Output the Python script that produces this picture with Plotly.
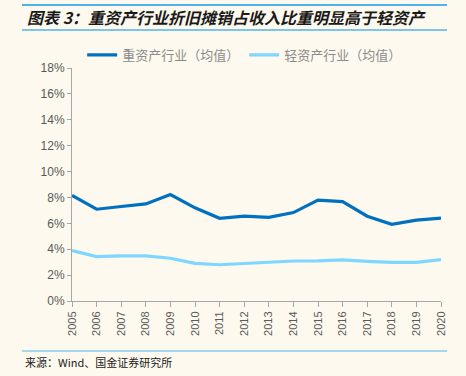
import plotly.graph_objects as go

years = [str(y) for y in range(2005, 2021)]
heavy = [8.15, 7.09, 7.30, 7.50, 8.23, 7.20, 6.39, 6.55, 6.46, 6.83, 7.79, 7.68, 6.55, 5.92, 6.25, 6.41]
light = [3.89, 3.43, 3.48, 3.48, 3.30, 2.91, 2.80, 2.91, 3.01, 3.09, 3.10, 3.17, 3.06, 2.98, 2.98, 3.19]
heavy_name = "重资产行业（均值）"
light_name = "轻资产行业（均值）"
title = "图表 3：重资产行业折旧摊销占收入比重明显高于轻资产"
source = "来源：Wind、国金证券研究所"

bg = "#FDF9EE"
font_cjk = "Noto Sans CJK SC"

fig = go.Figure()
fig.add_trace(go.Scatter(x=years, y=heavy, mode="lines", name=heavy_name,
                         line=dict(color="#0070C0", width=3.2)))
fig.add_trace(go.Scatter(x=years, y=light, mode="lines", name=light_name,
                         line=dict(color="#7FD6FF", width=3.2)))

fig.update_layout(
    width=466, height=376,
    paper_bgcolor=bg, plot_bgcolor=bg,
    margin=dict(l=72, r=25, t=68, b=75, autoexpand=False),
    font=dict(family=font_cjk, color="#595959", size=12),
    showlegend=True,
    legend=dict(orientation="h", x=0.525, xanchor="center", xref="container",
                y=1 - 55/376, yanchor="middle", yref="container",
                font=dict(size=13, color="#8C8C8C"), bgcolor="rgba(0,0,0,0)",
                itemwidth=30, tracegroupgap=0),
    xaxis=dict(type="category", range=[0, 15], showgrid=False, showline=True, automargin=False,
               linecolor="#A6A6A6", linewidth=1, ticks="outside", ticklen=5,
               tickcolor="#A6A6A6", tickangle=-90, tickfont=dict(size=11, color="#595959",
               family="Liberation Sans"), zeroline=False),
    yaxis=dict(range=[0, 18], dtick=2, ticksuffix="%", showgrid=False, showline=True, automargin=False,
               linecolor="#A6A6A6", linewidth=1, ticks="outside", ticklen=4,
               tickcolor="#A6A6A6", tickfont=dict(size=12, color="#595959",
               family="Liberation Sans"), zeroline=False),
    shapes=[
        dict(type="rect", xref="paper", yref="paper", x0=-50/369, x1=(447-72)/369,
             y0=1+(68-4.5)/233, y1=1+(68-6)/233, line=dict(width=0), fillcolor="#4FB3E8"),
        dict(type="line", xref="paper", yref="paper", x0=-50/369, x1=(447-72)/369,
             y0=1+(68-30)/233, y1=1+(68-30)/233, line=dict(color="#4FB3E8", width=1.5)),
        dict(type="line", xref="paper", yref="paper", x0=-50/369, x1=(447-72)/369,
             y0=-(351-301)/233, y1=-(351-301)/233, line=dict(color="#4FB3E8", width=1)),
    ],
    annotations=[
        dict(text="", xref="paper", yref="paper", x=-50/369, y=1+(68-5)/233,
             xanchor="left", yanchor="middle", showarrow=False, width=425, height=1.5,
             bgcolor="#4FB3E8", borderpad=0, borderwidth=0, font=dict(size=1)),
        dict(text="<b><i>" + title + "</i></b>", xref="paper", yref="paper",
             x=-47/369, y=1+(68-17)/233, xanchor="left", yanchor="middle", showarrow=False,
             font=dict(size=16, color="#1a1a1a", family=font_cjk)),
        dict(text=source, xref="paper", yref="paper",
             x=-49/369, y=-(362-301)/233, xanchor="left", yanchor="middle", showarrow=False,
             font=dict(size=11, color="#1a1a1a", family=font_cjk)),
    ],
)

fig.write_html("out.html", config={"displayModeBar": False},
               post_script="document.body.style.margin='0';document.body.style.background='" + bg + "';")
